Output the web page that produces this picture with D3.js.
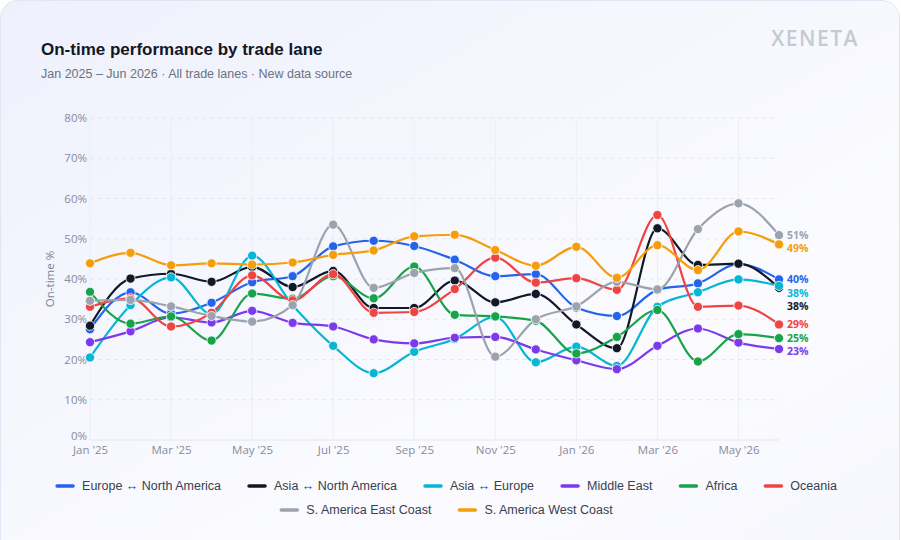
<!DOCTYPE html>
<html>
<head>
<meta charset="utf-8">
<script src="https://cdn.jsdelivr.net/npm/d3@7"></script>
<style>
  html, body { margin: 0; padding: 0; background: #ffffff; width: 901px; height: 540px; overflow: hidden; }
  #card {
    position: absolute; left: 0; top: 0; width: 898px; height: 560px;
    border: 1px solid #e2e5f4; border-radius: 18px;
    background: linear-gradient(150deg, #eef0fc 0%, #f7f8fe 45%, #fbfbff 70%, #f6f7fd 100%);
  }
  svg { position: absolute; left: 0; top: 0; }
</style>
</head>
<body>
<div id="card"></div>
<svg id="chart" width="901" height="540"></svg>
<script>
// ---------- DATA ----------
const months = ["Jan '25","Feb '25","Mar '25","Apr '25","May '25","Jun '25","Jul '25","Aug '25","Sep '25",
                "Oct '25","Nov '25","Dec '25","Jan '26","Feb '26","Mar '26","Apr '26","May '26","Jun '26"];
const xTickLabels = ["Jan '25","Mar '25","May '25","Jul '25","Sep '25","Nov '25","Jan '26","Mar '26","May '26"];
const yTicks = [0,10,20,30,40,50,60,70,80];

const seriesNames = ["Europe ↔ North America","Asia ↔ North America","Asia ↔ Europe","Middle East",
                     "Africa","Oceania","S. America East Coast","S. America West Coast"];
const seriesColors = ["#2563eb","#111827","#06b6d4","#7c3aed","#16a34a","#ef4444","#9ca3af","#f59e0b"];

const europeNorthAmerica = [27.5,36.7,31.4,34.1,39.2,40.7,48.1,49.5,48.2,44.8,40.7,41.2,32.9,30.8,37.3,38.9,43.7,39.9];
const asiaNorthAmerica   = [28.4,40.1,41.3,39.3,43.0,38.0,42.0,32.8,32.8,39.6,34.2,36.3,28.7,22.8,52.6,43.5,43.8,37.8];
const asiaEurope         = [20.5,33.5,40.4,31.3,45.8,33.5,23.4,16.6,21.9,25.1,30.6,19.3,23.2,18.4,33.1,36.7,39.9,38.3];
const middleEast         = [24.3,27.0,30.5,29.2,32.1,29.1,28.2,25.0,24.0,25.4,25.6,22.5,19.8,17.6,23.4,27.7,24.2,22.6];
const africa             = [36.8,28.9,30.7,24.7,36.4,35.1,40.7,35.2,43.1,31.1,30.7,29.6,21.5,25.6,32.3,19.5,26.3,25.3];
const oceania            = [33.1,35.2,28.2,31.6,40.9,34.7,41.2,31.6,31.8,37.5,45.3,39.1,40.2,37.3,55.9,33.1,33.4,28.7];
const saEastCoast        = [34.6,34.8,33.2,30.8,29.4,33.5,53.5,37.8,41.5,42.7,20.7,30.0,33.2,39.3,37.4,52.4,58.8,50.9];
const saWestCoast        = [43.9,46.5,43.4,43.9,43.6,44.1,46.0,47.1,50.6,51.0,47.2,43.3,48.0,40.3,48.4,42.2,51.8,48.6];

const seriesValues = [europeNorthAmerica, asiaNorthAmerica, asiaEurope, middleEast, africa, oceania, saEastCoast, saWestCoast];

// ---------- CHART ----------
const svg = d3.select("#chart");
const pL = 90, pR = 779, pT = 118, pB = 440;

const x = d3.scalePoint().domain(months).range([pL, pR]);
const y = d3.scaleLinear().domain([0, 80]).range([pB, pT]);

const series = seriesNames.map((name, i) => ({
  name, color: seriesColors[i],
  values: seriesValues[i].map((v, j) => ({ m: months[j], v }))
}));

// Title, subtitle, logo
svg.append("text").attr("x", 41).attr("y", 55)
  .attr("font-family", "'Liberation Sans', Arial, sans-serif").attr("font-weight", 700)
  .attr("font-size", 17).attr("fill", "#111827").text("On-time performance by trade lane");
svg.append("text").attr("x", 41).attr("y", 78)
  .attr("font-family", "'Liberation Sans', Arial, sans-serif")
  .attr("font-size", 12.5).attr("fill", "#6b7280").text("Jan 2025 – Jun 2026 · All trade lanes · New data source");
svg.append("text").attr("x", 859).attr("y", 46).attr("text-anchor", "end")
  .attr("font-family", "'Open Sans', sans-serif").attr("font-weight", 600)
  .attr("font-size", 21).attr("letter-spacing", 1.5).attr("fill", "#c5cad3").text("XENETA");

// Grid
const grid = svg.append("g");
grid.selectAll("line.h").data(yTicks.filter(d => d > 0)).join("line")
  .attr("x1", pL).attr("x2", pR).attr("y1", d => y(d)).attr("y2", d => y(d))
  .attr("stroke", "#e4e7f0").attr("stroke-dasharray", "4 4").attr("stroke-width", 1);
grid.selectAll("line.v").data(xTickLabels).join("line")
  .attr("x1", d => x(d)).attr("x2", d => x(d)).attr("y1", pT).attr("y2", pB)
  .attr("stroke", "#eceef6").attr("stroke-width", 1);
grid.append("line").attr("x1", pL).attr("x2", pR).attr("y1", pB).attr("y2", pB)
  .attr("stroke", "#e3e6ee");

// Axes
const axisFont = "'Open Sans', sans-serif";
const xAxis = svg.append("g").attr("transform", `translate(0,${pB})`)
  .call(d3.axisBottom(x).tickValues(xTickLabels).tickSize(0).tickPadding(6));
xAxis.select(".domain").remove();
xAxis.selectAll("text").attr("font-family", axisFont).attr("font-size", 11.5).attr("fill", "#878c9b");

const yAxis = svg.append("g").attr("transform", `translate(${pL - 3},0)`)
  .call(d3.axisLeft(y).tickValues(yTicks).tickFormat(d => d + "%").tickSize(0).tickPadding(0));
yAxis.select(".domain").remove();
yAxis.selectAll("text").attr("font-family", axisFont).attr("font-size", 11.5).attr("fill", "#878c9b");
// the 0% label sits just above the baseline, as in the reference
yAxis.selectAll(".tick").filter(d => d === 0).select("text").attr("dy", "-0.05em");

svg.append("text").attr("transform", `translate(54,${(pT + pB) / 2}) rotate(-90)`)
  .attr("text-anchor", "middle").attr("font-family", axisFont).attr("font-size", 11.5)
  .attr("fill", "#7b8190").text("On-time %");

// Lines
const line = d3.line().x(d => x(d.m)).y(d => y(d.v)).curve(d3.curveMonotoneX);
const gS = svg.append("g");
series.forEach(s => {
  const g = gS.append("g");
  g.append("path").datum(s.values).attr("d", line).attr("fill", "none")
    .attr("stroke", s.color).attr("stroke-width", 2.2).attr("stroke-linejoin", "round");
  g.selectAll("circle").data(s.values).join("circle")
    .attr("cx", d => x(d.m)).attr("cy", d => y(d.v)).attr("r", 4.6)
    .attr("fill", s.color).attr("stroke", "#ffffff").attr("stroke-width", 0.8);
});

// End labels with collision avoidance
const ends = series.map(s => ({ s, v: s.values[s.values.length - 1].v }))
  .map(d => ({ ...d, yy: y(d.v) }))
  .sort((a, b) => a.yy - b.yy);
for (let i = 1; i < ends.length; i++) {
  if (ends[i].yy < ends[i - 1].yy + 13.5) ends[i].yy = ends[i - 1].yy + 13.5;
}
svg.append("g").selectAll("text").data(ends).join("text")
  .attr("x", pR + 8).attr("y", d => d.yy).attr("dy", "0.35em")
  .attr("font-family", axisFont).attr("font-weight", 700).attr("font-size", 10.5)
  .attr("fill", d => d.s.color).text(d => Math.round(d.v) + "%");

// Legend
const legendFont = "'Liberation Sans', Arial, sans-serif";
const rows = [series.slice(0, 6), series.slice(6)];
const rowY = [486, 510];
const gap = 28, swW = 16, swGap = 9;
rows.forEach((row, ri) => {
  const g = svg.append("g");
  const items = row.map(s => {
    const t = g.append("text").attr("font-family", legendFont).attr("font-size", 12.5)
      .attr("fill", "#374151").attr("y", rowY[ri]).attr("dy", "0.35em").text(s.name);
    return { s, t, w: t.node().getComputedTextLength() };
  });
  const total = d3.sum(items, d => swW + swGap + d.w) + gap * (items.length - 1);
  let cx = 447 - total / 2;
  items.forEach(it => {
    g.append("line").attr("x1", cx).attr("x2", cx + swW).attr("y1", rowY[ri]).attr("y2", rowY[ri])
      .attr("stroke", it.s.color).attr("stroke-width", 3.5).attr("stroke-linecap", "round");
    it.t.attr("x", cx + swW + swGap);
    cx += swW + swGap + it.w + gap;
  });
});
</script>
</body>
</html>
